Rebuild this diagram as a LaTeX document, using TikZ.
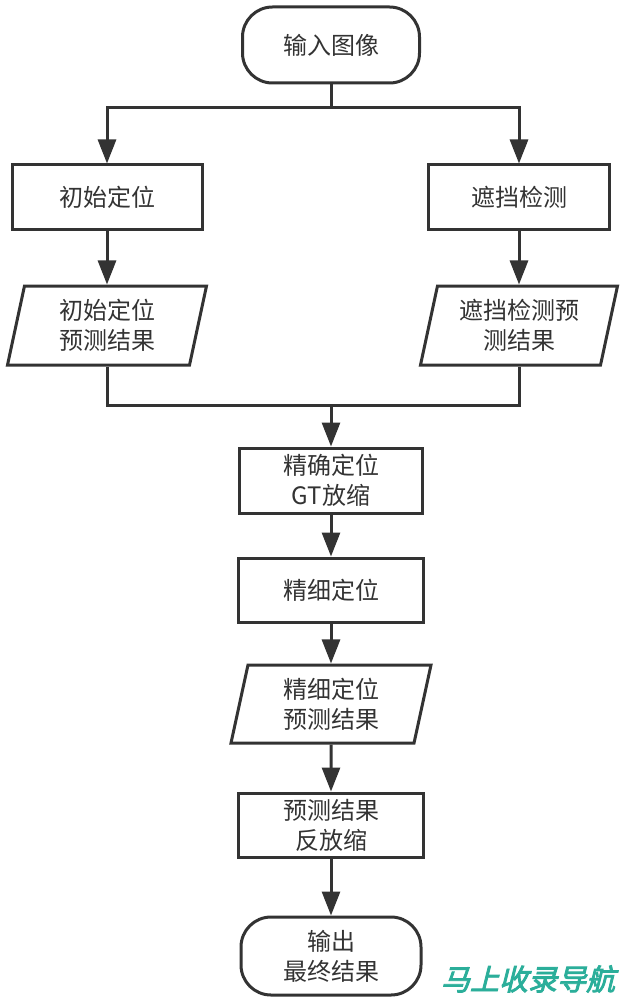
\documentclass[tikz,border=0pt]{standalone}
\usepackage{fontspec}
\usepackage{xcolor}
\usetikzlibrary{shapes.geometric,arrows.meta}
\newfontfamily\cjk{Noto Sans CJK SC}
\newfontfamily\wmfont[FakeSlant=0.25,FakeBold=3]{Noto Sans CJK SC}
\definecolor{ink}{HTML}{333333}
\definecolor{wmteal}{HTML}{2BAE9A}

\tikzset{
	txt/.style={font=\cjk\fontsize{12pt}{15pt}\selectfont, text=ink, align=center, draw=ink, line width=1.5pt, inner sep=0pt},
	term/.style={txt, rectangle, rounded corners=15pt},
	proc/.style={txt, rectangle},
	data/.style={txt, trapezium, trapezium left angle=72, trapezium right angle=108, trapezium stretches body},
	flow/.style={draw=ink, line width=1.5pt, -{Triangle[width=9pt,length=12pt]}},
	link/.style={draw=ink, line width=1.5pt}
}

\begin{document}
\begin{tikzpicture}[x=0.5pt, y=-0.5pt]
					\useasboundingbox (0,0) rectangle (623,1000);
					\node[term, minimum width=88.5pt, minimum height=38pt] (in) at (331,45) {输入图像};
					\node[proc, minimum width=95pt, minimum height=32.5pt] (loc) at (107,197.5) {初始定位};
					\node[proc, minimum width=90.5pt, minimum height=32.5pt] (occ) at (519,197.5) {遮挡检测};
					\node[data, minimum width=99.5pt, minimum height=39.5pt] (locres) at (107,325.5) {初始定位\\预测结果};
					\node[data, minimum width=98.5pt, minimum height=39.5pt] (occres) at (519,325.5) {遮挡检测预\\测结果};
					\node[proc, minimum width=91.5pt, minimum height=32.5pt] (gt) at (331,480.5) {精确定位\\GT放缩};
					\node[proc, minimum width=92.5pt, minimum height=32pt] (fine) at (331,590) {精细定位};
					\node[data, minimum width=100pt, minimum height=39pt] (fineres) at (331,704) {精细定位\\预测结果};
					\node[proc, minimum width=92.5pt, minimum height=32pt] (back) at (331,825) {预测结果\\反放缩};
					\node[term, minimum width=90pt, minimum height=39pt] (out) at (331,956) {输出\\最终结果};
					\coordinate (split) at (331,108);
					\coordinate (merge) at (331,405);

					\draw[link] (in) -- (split);
					\draw[flow] (split) -| (loc);
					\draw[flow] (split) -| (occ);
					\draw[flow] (loc) -- (locres);
					\draw[flow] (occ) -- (occres);
					\draw[link] (locres) |- (merge);
					\draw[link] (occres) |- (merge);
					\draw[flow] (merge) -- (gt);
					\draw[flow] (gt) -- (fine);
					\draw[flow] (fine) -- (fineres);
					\draw[flow] (fineres) -- (back);
					\draw[flow] (back) -- (out);

					\node[text=wmteal, font=\wmfont\fontsize{14.5pt}{14.5pt}\selectfont, inner sep=0pt] (mark) at (528,979) {马上收录导航};
				\end{tikzpicture}
\end{document}
